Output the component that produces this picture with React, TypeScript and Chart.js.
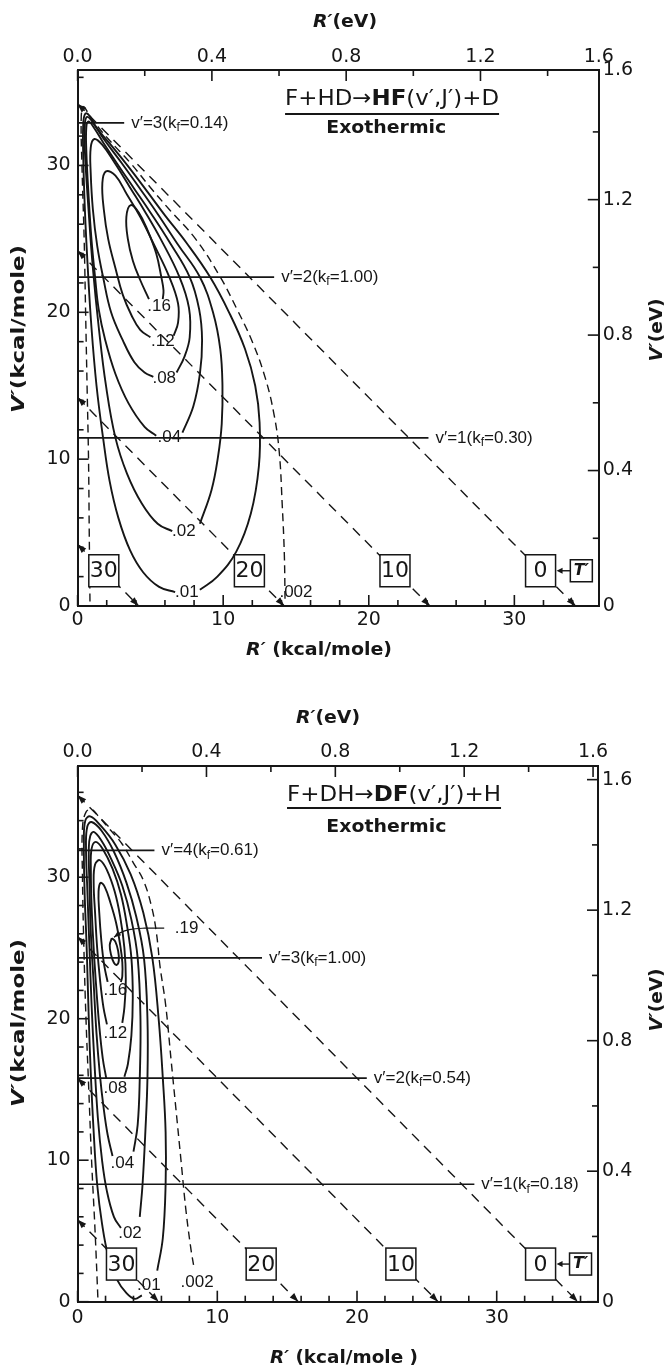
import { useEffect, useRef } from 'react';
import { Chart, registerables } from 'chart.js';

Chart.register(...registerables);

type Pt = [number, number];

const KCAL_PER_EV = 23.06;
const INK = '#161616';
const SANS = '"DejaVu Sans", "Liberation Sans", sans-serif';
const LSANS = '"Liberation Sans", "DejaVu Sans", sans-serif';

// ---------- shared axis ticks ----------
const KCAL_TICKS = [0, 2, 4, 6, 8, 10, 12, 14, 16, 18, 20, 22, 24, 26, 28, 30, 32, 34, 36];
const KCAL_LABELED = [0, 10, 20, 30];
const EV_TICKS = [0, 0.2, 0.4, 0.6, 0.8, 1.0, 1.2, 1.4, 1.6];
const EV_TOP_LABELS = ['0.0', '', '0.4', '', '0.8', '', '1.2', '', '1.6'];
const EV_RIGHT_LABELS = ['0', '', '0.4', '', '0.8', '', '1.2', '', '1.6'];

// ================= Upper panel: F + HD -> HF(v',J') + D =================
const HF_R_MAX = 35.8;
const HF_V_MAX = 36.5;
const HF_E_TOTAL = 34.2;
const HF_T_PRIME = [0, 10, 20, 30];
const HF_V_LEVELS = [32.9, 22.4, 11.45];
const HF_V_ENDS = [3.2, 13.5, 24.1];
const HF_V_NUMS = ['3', '2', '1'];
const HF_KF = ['0.14', '1.00', '0.30'];
const HF_LEVELS = ['.002', '.01', '.02', '.04', '.08', '.12', '.16'];
const HF_C002: Pt[] = [[0.85, 0.3], [0.8, 5], [0.75, 10], [0.65, 15], [0.55, 20], [0.45, 25], [0.3, 30], [0.25, 33.3], [0.4, 34.0], [0.7, 33.6], [1.1, 33.0], [2.2, 31.7], [3.6, 30.2], [5.0, 28.5], [6.3, 27.0], [8.1, 25.0], [9.8, 22.4], [10.9, 20.3], [12.0, 18.0], [12.9, 15.5], [13.5, 13.0], [13.85, 10.5], [14.05, 7.0], [14.2, 3.5], [14.25, 0.3]];
const HF_C01: Pt[] = [[6.7, 0.95], [5.6, 1.3], [4.5, 2.3], [3.6, 3.8], [2.8, 6.0], [2.2, 8.5], [1.75, 11.45], [1.3, 15], [0.95, 19], [0.7, 23], [0.5, 27], [0.38, 31], [0.4, 33.0], [0.55, 33.55], [0.8, 33.4], [1.2, 32.7], [2.2, 31.5], [3.5, 29.9], [4.8, 28.2], [6.0, 26.6], [7.5, 24.7], [9.1, 22.4], [10.4, 20], [11.5, 17.5], [12.2, 15], [12.5, 12.5], [12.45, 9.5], [11.9, 6.3], [10.9, 3.7], [9.6, 2.0], [8.4, 1.1]];
const HF_C02: Pt[] = [[6.5, 5.1], [5.5, 5.6], [4.4, 7.0], [3.4, 9.0], [2.6, 11.45], [1.95, 15], [1.45, 19], [1.05, 23], [0.75, 27], [0.5, 31], [0.5, 32.8], [0.65, 33.3], [1.0, 33.0], [1.8, 31.8], [3.0, 30.2], [4.3, 28.4], [5.5, 26.7], [6.9, 24.6], [8.4, 22.4], [9.3, 20], [9.8, 17.5], [9.95, 15], [9.9, 12.4], [9.65, 10.2], [9.2, 7.9], [8.4, 5.6]];
const HF_C04: Pt[] = [[5.4, 11.6], [4.6, 12.2], [3.5, 13.8], [2.6, 15.8], [1.9, 18.1], [1.45, 20.2], [1.2, 22.4], [0.95, 25], [0.75, 28], [0.6, 31], [0.6, 32.6], [0.75, 33.0], [1.1, 32.6], [1.8, 31.5], [2.8, 30.0], [3.9, 28.4], [5.0, 26.8], [6.3, 24.8], [7.7, 22.4], [8.35, 20.2], [8.55, 18.1], [8.4, 15.8], [7.95, 13.6], [7.2, 11.8]];
const HF_C08: Pt[] = [[5.2, 15.6], [4.6, 15.9], [3.9, 16.6], [3.1, 18.1], [2.3, 20.0], [1.75, 22.4], [1.35, 24.5], [1.05, 27], [0.9, 29.5], [0.9, 31.2], [1.15, 31.8], [1.7, 31.4], [2.6, 30.1], [3.6, 28.5], [4.6, 26.9], [5.7, 25.0], [7.0, 22.4], [7.65, 20.3], [7.7, 18.3], [7.35, 17.0], [6.8, 15.9]];
const HF_C12: Pt[] = [[5.0, 18.3], [4.3, 18.8], [3.7, 19.8], [3.1, 21.2], [2.6, 23.0], [2.1, 25.0], [1.8, 27.0], [1.7, 28.8], [1.95, 29.6], [2.6, 29.3], [3.4, 28.0], [4.3, 26.5], [5.2, 24.7], [6.3, 22.4], [6.9, 20.6], [6.9, 19.3], [6.6, 18.4]];
const HF_C16: Pt[] = [[4.9, 20.9], [4.3, 22.2], [3.8, 23.5], [3.45, 25.0], [3.35, 26.5], [3.65, 27.3], [4.2, 26.8], [4.8, 25.6], [5.4, 24.0], [5.75, 22.4], [5.9, 21.5], [5.85, 20.9]];
const HF_LABEL_AT: Pt[] = [[15.0, 0.95], [7.5, 0.93], [7.3, 5.06], [6.3, 11.5], [5.95, 15.5], [5.85, 18.0], [5.6, 20.4]];

// ================= Lower panel: F + DH -> DF(v',J') + H =================
const DF_R_MAX = 37.25;
const DF_V_MAX = 37.86;
const DF_E_TOTAL = 35.8;
const DF_T_PRIME = [0, 10, 20, 30];
const DF_V_LEVELS = [31.9, 24.3, 15.8, 8.3];
const DF_V_ENDS = [5.5, 13.2, 20.7, 28.4];
const DF_V_NUMS = ['4', '3', '2', '1'];
const DF_KF = ['0.61', '1.00', '0.54', '0.18'];
const DF_LEVELS = ['.002', '.01', '.02', '.04', '.08', '.12', '.16', '.19'];
const DF_C002: Pt[] = [[1.45, 0.3], [1.25, 5], [1.0, 10], [0.8, 15], [0.6, 20], [0.45, 25], [0.35, 30], [0.35, 33.5], [0.6, 34.6], [1.0, 34.8], [1.5, 34.3], [2.2, 33.5], [3.15, 32.4], [4.0, 31.0], [4.7, 29.8], [5.3, 27.9], [5.65, 26], [5.9, 23.7], [6.3, 21], [6.7, 17], [7.0, 14], [7.4, 10], [7.75, 6.5], [8.1, 3.8], [8.3, 2.6]];
const DF_C01: Pt[] = [[4.6, 0.45], [4.1, 0.2], [3.5, 0.6], [2.8, 1.6], [2.2, 3.2], [1.75, 5.5], [1.4, 8.3], [1.15, 12], [0.95, 16], [0.8, 20], [0.65, 25], [0.5, 29], [0.45, 32.5], [0.55, 34.0], [0.9, 34.3], [1.6, 33.7], [2.7, 32.3], [3.8, 30.2], [4.7, 27.5], [5.35, 24.3], [5.8, 20], [6.1, 15.8], [6.3, 12], [6.3, 8.3], [6.1, 4.5], [5.7, 2.2]];
const DF_C02: Pt[] = [[3.1, 5.2], [2.6, 6.0], [2.1, 7.8], [1.75, 10], [1.45, 13], [1.2, 17], [1.0, 21], [0.85, 25], [0.7, 29], [0.6, 32.3], [0.7, 33.6], [1.0, 33.9], [1.7, 33.3], [2.6, 31.8], [3.5, 29.6], [4.2, 27.2], [4.75, 24.3], [5.0, 20], [5.0, 15.8], [4.85, 12], [4.65, 8.3], [4.45, 6.0]];
const DF_C04: Pt[] = [[2.5, 10.3], [2.15, 11.8], [1.85, 13.8], [1.6, 16], [1.35, 19], [1.15, 22.5], [0.95, 26], [0.85, 29.5], [0.8, 32], [0.9, 32.9], [1.15, 33.2], [1.7, 32.6], [2.4, 31.3], [3.2, 29.4], [3.85, 27], [4.3, 24.3], [4.5, 20], [4.45, 15.8], [4.3, 12.5], [4.0, 10.6]];
const DF_C08: Pt[] = [[2.05, 15.8], [1.8, 17.2], [1.55, 19.5], [1.35, 22], [1.15, 25], [1.0, 28], [0.95, 30.5], [1.0, 32.0], [1.3, 32.5], [1.8, 32.0], [2.5, 30.6], [3.1, 28.8], [3.55, 26.5], [3.85, 24.3], [3.95, 21.5], [3.85, 18.8], [3.6, 16.8], [3.35, 15.9]];
const DF_C12: Pt[] = [[2.1, 19.6], [1.85, 20.8], [1.6, 22.8], [1.4, 25], [1.25, 27.5], [1.15, 29.6], [1.25, 30.9], [1.6, 31.2], [2.1, 30.5], [2.65, 29.0], [3.05, 27.2], [3.35, 25], [3.45, 22.8], [3.35, 20.8], [3.2, 19.7]];
const DF_C16: Pt[] = [[2.15, 22.6], [1.9, 23.8], [1.7, 25.5], [1.55, 27.5], [1.5, 29.0], [1.65, 29.6], [1.95, 29.3], [2.35, 28.2], [2.75, 26.8], [3.05, 25.2], [3.2, 24], [3.2, 23.0], [3.1, 22.6]];
const DF_C19: Pt[] = [[2.45, 25.7], [2.7, 25.45], [2.9, 24.8], [2.95, 24.1], [2.8, 23.8], [2.6, 23.95], [2.4, 24.5], [2.3, 25.2], [2.45, 25.7]];
const DF_LEADER: Pt[] = [[6.2, 26.4], [4.8, 26.4], [3.7, 26.3], [3.0, 26.05], [2.6, 25.75]];
const DF_LABEL_AT: Pt[] = [[8.55, 1.4], [5.1, 1.15], [3.75, 4.8], [3.2, 9.8], [2.7, 15.1], [2.7, 19.0], [2.7, 22.0], [7.8, 26.4]];

// ---------- panel descriptions (layout, built from the arrays above) ----------
interface Panel {
  rMax: number; vMax: number; eTotal: number; tPrime: number[]; boxV: number; tBoxR: number;
  vLevels: number[]; vEnds: number[]; vNums: string[]; kf: string[];
  contours: Pt[][]; levels: string[]; labelAt: Pt[]; leader?: Pt[];
  reaction: { a: string; b: string; c: string }; titleAt: Pt; underlineV: number; exoAt: Pt;
  box: { left: number; right: number; top: number; bottom: number };
  pad: { left: number; right: number; top: number; bottom: number };
  titles: { rEv: Pt; rKcal: Pt; vKcal: Pt; vEv: Pt; rKcalText: string; rKcalW: number };
}

const HF_PANEL: Panel = {
  rMax: HF_R_MAX, vMax: HF_V_MAX, eTotal: HF_E_TOTAL, tPrime: HF_T_PRIME, boxV: 2.4, tBoxR: 34.6,
  vLevels: HF_V_LEVELS, vEnds: HF_V_ENDS, vNums: HF_V_NUMS, kf: HF_KF,
  contours: [HF_C002, HF_C01, HF_C02, HF_C04, HF_C08, HF_C12, HF_C16], levels: HF_LEVELS, labelAt: HF_LABEL_AT,
  reaction: { a: 'F+HD', b: 'HF', c: '(v\u2032,J\u2032)+D' }, titleAt: [21.6, 34.5], underlineV: 33.5, exoAt: [21.2, 32.5],
  box: { left: 77.6, right: 73.2, top: 70, bottom: 74 },
  pad: { left: 7, right: 4, top: 2, bottom: 3 },
  titles: { rEv: [345, 22], rKcal: [319, 650], vKcal: [19, 329], vEv: [657, 330], rKcalText: ' (kcal/mole)', rKcalW: 146 },
};

const DF_PANEL: Panel = {
  rMax: DF_R_MAX, vMax: DF_V_MAX, eTotal: DF_E_TOTAL, tPrime: DF_T_PRIME, boxV: 2.66, tBoxR: 36.0,
  vLevels: DF_V_LEVELS, vEnds: DF_V_ENDS, vNums: DF_V_NUMS, kf: DF_KF,
  contours: [DF_C002, DF_C01, DF_C02, DF_C04, DF_C08, DF_C12, DF_C16, DF_C19], levels: DF_LEVELS, labelAt: DF_LABEL_AT,
  leader: DF_LEADER,
  reaction: { a: 'F+DH', b: 'DF', c: '(v\u2032,J\u2032)+H' }, titleAt: [22.65, 35.8], underlineV: 34.9, exoAt: [22.1, 33.5],
  box: { left: 77.6, right: 74, top: 86, bottom: 67.3 },
  pad: { left: 7, right: 4, top: 3, bottom: 5 },
  titles: { rEv: [328, 38], rKcal: [344, 678], vKcal: [19, 343], vEv: [657, 320], rKcalText: ' (kcal/mole )', rKcalW: 148 },
};

// ---------- drawing helpers ----------
type Seg = { t: string; f: string; dy?: number };

function rich(ctx: CanvasRenderingContext2D, segs: Seg[], x: number, y: number, align: 'left' | 'center', fit?: number, rot = 0) {
  ctx.save();
  let total = 0;
  const ws = segs.map((s) => { ctx.font = s.f; const w = ctx.measureText(s.t).width; total += w; return w; });
  const sx = fit ? fit / total : 1;
  ctx.translate(x, y);
  if (rot) ctx.rotate(rot);
  ctx.scale(sx, 1);
  ctx.textBaseline = 'middle';
  ctx.textAlign = 'left';
  ctx.fillStyle = INK;
  let cx = align === 'center' ? -total / 2 : 0;
  segs.forEach((s, i) => { ctx.font = s.f; ctx.fillText(s.t, cx, s.dy || 0); cx += ws[i]; });
  ctx.restore();
  return total * sx;
}

function arrowHead(ctx: CanvasRenderingContext2D, tx: number, ty: number, fx: number, fy: number, len = 9, half = 3.2) {
  const a = Math.atan2(ty - fy, tx - fx);
  const c = Math.cos(a), s = Math.sin(a);
  ctx.beginPath();
  ctx.moveTo(tx, ty);
  ctx.lineTo(tx - len * c + half * s, ty - len * s - half * c);
  ctx.lineTo(tx - len * c - half * s, ty - len * s + half * c);
  ctx.closePath();
  ctx.fill();
}

function annotPlugin(p: Panel) {
  return {
    id: 'annot',
    afterDatasetsDraw(chart: any) {
      const ctx: CanvasRenderingContext2D = chart.ctx;
      const xs = chart.scales.x, ys = chart.scales.y;
      const X = (r: number) => xs.getPixelForValue(r);
      const Y = (v: number) => ys.getPixelForValue(v);
      ctx.save();
      ctx.fillStyle = INK;
      ctx.strokeStyle = INK;

      // arrowheads where the T' lines meet the axes
      p.tPrime.forEach((t) => {
        const e = p.eTotal - t;
        arrowHead(ctx, X(0), Y(e), X(e), Y(0));
        arrowHead(ctx, X(e), Y(0), X(0), Y(e));
      });

      // contour labels
      p.levels.forEach((lv, i) => {
        const [r, v] = p.labelAt[i];
        rich(ctx, [{ t: lv, f: `17px ${LSANS}` }], X(r), Y(v), 'center');
      });

      // leader arrow (.19)
      if (p.leader) {
        const n = p.leader.length;
        arrowHead(ctx, X(p.leader[n - 1][0]), Y(p.leader[n - 1][1]), X(p.leader[n - 2][0]), Y(p.leader[n - 2][1]), 7, 2.8);
      }

      // v' labels
      p.vLevels.forEach((v, i) => {
        rich(ctx, [
          { t: `v\u2032=${p.vNums[i]}(k`, f: `17px ${LSANS}` },
          { t: 'f', f: `12px ${LSANS}`, dy: 5 },
          { t: `=${p.kf[i]})`, f: `17px ${LSANS}` },
        ], X(p.vEnds[i]) + 7, Y(v), 'left');
      });

      // T' boxes
      ctx.lineWidth = 1.5;
      p.tPrime.forEach((t) => {
        const cx = X(p.eTotal - t - p.boxV), cy = Y(p.boxV);
        ctx.fillStyle = '#ffffff';
        ctx.fillRect(cx - 15, cy - 16, 30, 32);
        ctx.strokeRect(cx - 15, cy - 16, 30, 32);
        ctx.fillStyle = INK;
        rich(ctx, [{ t: String(t), f: `22px ${SANS}` }], cx, cy + 1, 'center');
      });
      const tbx = X(p.tBoxR), tby = Y(p.boxV);
      ctx.fillStyle = '#ffffff';
      ctx.fillRect(tbx - 11, tby - 11, 22, 22);
      ctx.strokeRect(tbx - 11, tby - 11, 22, 22);
      ctx.fillStyle = INK;
      rich(ctx, [{ t: 'T\u2032', f: `italic bold 16px ${SANS}` }], tbx, tby, 'center');
      const zeroRight = X(p.eTotal - p.boxV) + 15;
      ctx.lineWidth = 1.4;
      ctx.beginPath();
      ctx.moveTo(tbx - 11, tby);
      ctx.lineTo(zeroRight + 4, tby);
      ctx.stroke();
      arrowHead(ctx, zeroRight + 1, tby, tbx - 11, tby, 6, 3);

      // reaction title
      const tw = rich(ctx, [
        { t: p.reaction.a, f: `22px ${SANS}` },
        { t: '\u2192', f: `22px ${SANS}` },
        { t: p.reaction.b, f: `bold 22px ${SANS}` },
        { t: p.reaction.c, f: `22px ${SANS}` },
      ], X(p.titleAt[0]), Y(p.titleAt[1]), 'center', 214);
      ctx.lineWidth = 2;
      ctx.beginPath();
      ctx.moveTo(X(p.titleAt[0]) - tw / 2, Y(p.underlineV));
      ctx.lineTo(X(p.titleAt[0]) + tw / 2, Y(p.underlineV));
      ctx.stroke();
      rich(ctx, [{ t: 'Exothermic', f: `bold 18px ${SANS}` }], X(p.exoAt[0]), Y(p.exoAt[1]), 'center', 120);
      ctx.restore();
    },
    afterDraw(chart: any) {
      const ctx: CanvasRenderingContext2D = chart.ctx;
      const a = chart.chartArea;
      ctx.save();
      ctx.strokeStyle = INK;
      ctx.lineWidth = 1.6;
      ['x', 'x2', 'y', 'y2'].forEach((id) => {
        const s = chart.scales[id];
        s.ticks.forEach((t: any) => {
          const len = t.label !== '' && t.label != null ? 11 : 6;
          const px = s.getPixelForValue(t.value);
          ctx.beginPath();
          if (id === 'x') { ctx.moveTo(px, a.bottom); ctx.lineTo(px, a.bottom - len); }
          if (id === 'x2') { ctx.moveTo(px, a.top); ctx.lineTo(px, a.top + len); }
          if (id === 'y') { ctx.moveTo(a.left, px); ctx.lineTo(a.left + len, px); }
          if (id === 'y2') { ctx.moveTo(a.right, px); ctx.lineTo(a.right - len, px); }
          ctx.stroke();
        });
      });
      const T = p.titles;
      const bf = `bold 18px ${SANS}`, bi = `italic bold 18px ${SANS}`;
      rich(ctx, [{ t: 'R\u2032', f: bi }, { t: '(eV)', f: bf }], T.rEv[0], T.rEv[1], 'center', 64);
      rich(ctx, [{ t: 'R\u2032', f: bi }, { t: T.rKcalText, f: bf }], T.rKcal[0], T.rKcal[1], 'center', T.rKcalW);
      rich(ctx, [{ t: 'V\u2032', f: bi }, { t: '(kcal/mole)', f: bf }], T.vKcal[0], T.vKcal[1], 'center', 168, -Math.PI / 2);
      rich(ctx, [{ t: 'V\u2032', f: bi }, { t: '(eV)', f: bf }], T.vEv[0], T.vEv[1], 'center', 63, -Math.PI / 2);
      ctx.restore();
    },
  };
}

function buildChart(canvas: HTMLCanvasElement, p: Panel) {
  const datasets: any[] = [];
  p.contours.forEach((c, i) => {
    const dashed = p.levels[i] === '.002';
    datasets.push({
      data: c.map(([x, y]) => ({ x, y })), showLine: true, pointRadius: 0, borderColor: INK,
      borderWidth: dashed ? 1.4 : 1.9, borderDash: dashed ? [8, 5] : [], tension: 0.4, fill: false,
    });
  });
  p.tPrime.forEach((t) => {
    const e = p.eTotal - t;
    datasets.push({ data: [{ x: 0, y: e }, { x: e, y: 0 }], showLine: true, pointRadius: 0, borderColor: INK, borderWidth: 1.4, borderDash: [10, 7] });
  });
  p.vLevels.forEach((v, i) => {
    datasets.push({ data: [{ x: 0, y: v }, { x: p.vEnds[i], y: v }], showLine: true, pointRadius: 0, borderColor: INK, borderWidth: 1.7 });
  });
  if (p.leader) {
    datasets.push({ data: p.leader.map(([x, y]) => ({ x, y })), showLine: true, pointRadius: 0, borderColor: INK, borderWidth: 1.2, tension: 0.4 });
  }

  const tickFont = { family: SANS, size: 19 };
  const common = { grid: { display: false, drawTicks: false }, border: { display: true, color: INK, width: 2 } };
  const evMaxX = p.rMax / KCAL_PER_EV;
  const evMaxY = p.vMax / KCAL_PER_EV;

  return new Chart(canvas, {
    type: 'scatter',
    data: { datasets },
    plugins: [annotPlugin(p)],
    options: {
      responsive: false, animation: false, devicePixelRatio: 1, events: [],
      layout: { padding: 0 },
      plugins: { legend: { display: false }, tooltip: { enabled: false } },
      scales: {
        x: {
          type: 'linear', position: 'bottom', min: 0, max: p.rMax, ...common,
          afterBuildTicks: (s: any) => { s.ticks = KCAL_TICKS.filter((v) => v <= p.rMax).map((v) => ({ value: v })); },
          afterFit: (s: any) => { s.height = p.box.bottom; },
          ticks: { autoSkip: false, maxRotation: 0, padding: p.pad.bottom, font: tickFont, color: INK, callback: (v: any) => (KCAL_LABELED.includes(Number(v)) ? String(v) : '') },
        },
        x2: {
          type: 'linear', axis: 'x', position: 'top', min: 0, max: evMaxX, ...common,
          afterBuildTicks: (s: any) => { s.ticks = EV_TICKS.map((v) => ({ value: Math.min(v, evMaxX) })); },
          afterFit: (s: any) => { s.height = p.box.top; },
          ticks: { autoSkip: false, maxRotation: 0, padding: p.pad.top, font: tickFont, color: INK, callback: (_v: any, i: number) => EV_TOP_LABELS[i] },
        },
        y: {
          type: 'linear', position: 'left', min: 0, max: p.vMax, ...common,
          afterBuildTicks: (s: any) => { s.ticks = KCAL_TICKS.filter((v) => v <= p.vMax).map((v) => ({ value: v })); },
          afterFit: (s: any) => { s.width = p.box.left; },
          ticks: { autoSkip: false, padding: p.pad.left, font: tickFont, color: INK, callback: (v: any) => (KCAL_LABELED.includes(Number(v)) ? String(v) : '') },
        },
        y2: {
          type: 'linear', axis: 'y', position: 'right', min: 0, max: evMaxY, ...common,
          afterBuildTicks: (s: any) => { s.ticks = EV_TICKS.map((v) => ({ value: Math.min(v, evMaxY) })); },
          afterFit: (s: any) => { s.width = p.box.right; },
          ticks: { autoSkip: false, padding: p.pad.right, font: tickFont, color: INK, callback: (_v: any, i: number) => EV_RIGHT_LABELS[i] },
        },
      },
    } as any,
  });
}

export default function App() {
  const topRef = useRef<HTMLCanvasElement>(null);
  const botRef = useRef<HTMLCanvasElement>(null);
  useEffect(() => {
    document.body.style.margin = '0';
    const c1 = buildChart(topRef.current!, HF_PANEL);
    const c2 = buildChart(botRef.current!, DF_PANEL);
    return () => { c1.destroy(); c2.destroy(); };
  }, []);
  return (
    <div style={{ position: 'absolute', left: 0, top: 0, width: 672, height: 1369, background: '#ffffff' }}>
      <canvas ref={topRef} width={672} height={680} style={{ position: 'absolute', left: 0, top: 0, width: 672, height: 680 }} />
      <canvas ref={botRef} width={672} height={689} style={{ position: 'absolute', left: 0, top: 680, width: 672, height: 689 }} />
    </div>
  );
}
